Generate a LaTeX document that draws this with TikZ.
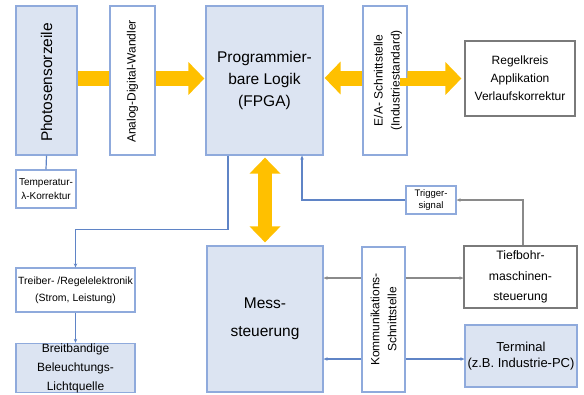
\documentclass[tikz,border=0pt]{standalone}
\usepackage{fontspec}
\setmainfont{Liberation Sans}
\usetikzlibrary{arrows.meta,backgrounds}
\definecolor{boxblue}{HTML}{DCE4F2}
\definecolor{edgeblue}{HTML}{8FAADC}
\definecolor{lineblue}{HTML}{5F84C6}
\definecolor{arrowyellow}{HTML}{FFC000}
\definecolor{linegray}{HTML}{8A8A8A}
\definecolor{edgegray}{HTML}{7A7A7A}
\newcommand{\fsz}[2]{\fontsize{#1bp}{#2bp}\selectfont}
\begin{document}
\begin{tikzpicture}[x=1bp,y=-1bp,
  box/.style={draw=edgeblue, line width=1.2bp, fill=white, inner sep=0pt, align=center},
  bluebox/.style={box, fill=boxblue},
  graybox/.style={box, draw=edgegray},
  lbl/.style={inner sep=0pt, align=center},
  conn/.style={draw=lineblue, line width=1.2bp},
  grayconn/.style={draw=linegray, line width=1.2bp},
  tip/.style={-{Stealth[length=4bp,width=3.5bp]}},
  yarrow/.style={draw=arrowyellow, line width=15bp, -{Triangle[length=16bp,width=32bp]}},
  ydouble/.style={draw=arrowyellow, line width=14bp, {Triangle[length=16bp,width=30bp]}-{Triangle[length=16bp,width=30bp]}}
]
\useasboundingbox (0,0) rectangle (584,394);

% boxes
\node[bluebox, minimum width=61bp, minimum height=149bp] (photo) at (46.5,80.5) {};
\node[lbl, rotate=90, font=\fsz{15.5}{19}] (photot) at ([yshift=-2bp]photo.center) {Photosensorzeile};
\node[box, minimum width=45bp, minimum height=149bp] (adc) at (132.5,80.5) {};
\node[lbl, rotate=90, font=\fsz{12}{15}] (adct) at ([yshift=-1bp]adc.center) {Analog-Digital-Wandler};
\node[box, minimum width=60bp, minimum height=38bp, font=\fsz{10}{14}] (temp) at (46,189) {Temperatur-\\λ-Korrektur};
\node[bluebox, minimum width=117bp, minimum height=149bp, font=\fsz{15.5}{22}] (fpga) at (264.5,80.5) {Programmier-\\bare Logik\\(FPGA)};
\node[box, minimum width=44bp, minimum height=149bp] (ea) at (385,80.5) {};
\node[lbl, rotate=90, font=\fsz{12}{17}] (eat) at ([xshift=3bp]ea.center) {E/A- Schnittstelle\\(Industriestandard)};
\node[graybox, minimum width=110bp, minimum height=75bp, font=\fsz{12}{18}] (regel) at (520,78.5) {Regelkreis\\Applikation\\Verlaufskorrektur};
\node[box, minimum width=50bp, minimum height=28bp, font=\fsz{9.5}{12}] (trig) at (431,200) {Trigger-\\signal};
\node[graybox, minimum width=113bp, minimum height=62bp, font=\fsz{12.2}{20.5}] (tief) at (520.5,277) {Tiefbohr-\\maschinen-\\steuerung};
\node[bluebox, minimum width=112bp, minimum height=62bp, font=\fsz{13}{16}] (term) at (521,356) {Terminal\\(z.B. Industrie-PC)};
\node[box, minimum width=43bp, minimum height=145bp] (komm) at (383.5,319.5) {};
\node[lbl, rotate=90, font=\fsz{12}{17}] (kommt) at (komm.center) {Kommunikations-\\Schnittstelle};
\node[bluebox, minimum width=116bp, minimum height=146bp, font=\fsz{15.5}{28}] (mess) at (265,319) {Mess-\\steuerung};
\node[box, minimum width=119bp, minimum height=44bp, font=\fsz{10.5}{17}] (treib) at (75.5,290) {Treiber- /Regelelektronik\\(Strom, Leistung)};
\node[bluebox, minimum width=119bp, minimum height=49bp, font=\fsz{12}{19}] (breit) at (75.5,368) {Breitbandige\\Beleuchtungs-\\Lichtquelle};

% yellow arrows
\begin{scope}[on background layer]
\draw[yarrow, shorten >=1bp] ([yshift=2bp]photo.east) -- ([yshift=2bp]fpga.west);
\end{scope}
\draw[yarrow, shorten >=1bp] ([yshift=2.5bp]ea.west) -- ([yshift=2.5bp]fpga.east);
\draw[yarrow, shorten >=3bp] ([yshift=2.5bp]ea.east) -- (ea.east |- regel.west) -- (regel.west);
\draw[ydouble, shorten <=2bp, shorten >=3bp] (fpga.south -| mess.north) -- (mess.north);

% thin connectors
\draw[conn] (photo.south) -- (temp.north);
\draw[conn, tip] ([xshift=-36.5bp]fpga.south) -- ++(0,74) -| (treib.north);
\draw[conn, tip] (treib.south) -- (breit.north);
\draw[conn, tip] (trig.west) -| ([xshift=37.5bp]fpga.south);
\draw[grayconn, tip] ([xshift=2.5bp]tief.north) |- (trig.east);
\coordinate (kgl) at ([yshift=41.5bp]komm.west);
\coordinate (kgr) at ([yshift=41.5bp]komm.east);
\coordinate (kbl) at ([yshift=-39.5bp]komm.west);
\coordinate (kbr) at ([yshift=-39.5bp]komm.east);
\draw[grayconn, tip] (kgl) -- (kgl -| mess.east);
\draw[grayconn, tip] (kgr) -- (kgr -| tief.west);
\draw[conn, tip] (kbl) -- (kbl -| mess.east);
\draw[conn, tip] (kbr) -- (kbr -| term.west);
\end{tikzpicture}
\end{document}
